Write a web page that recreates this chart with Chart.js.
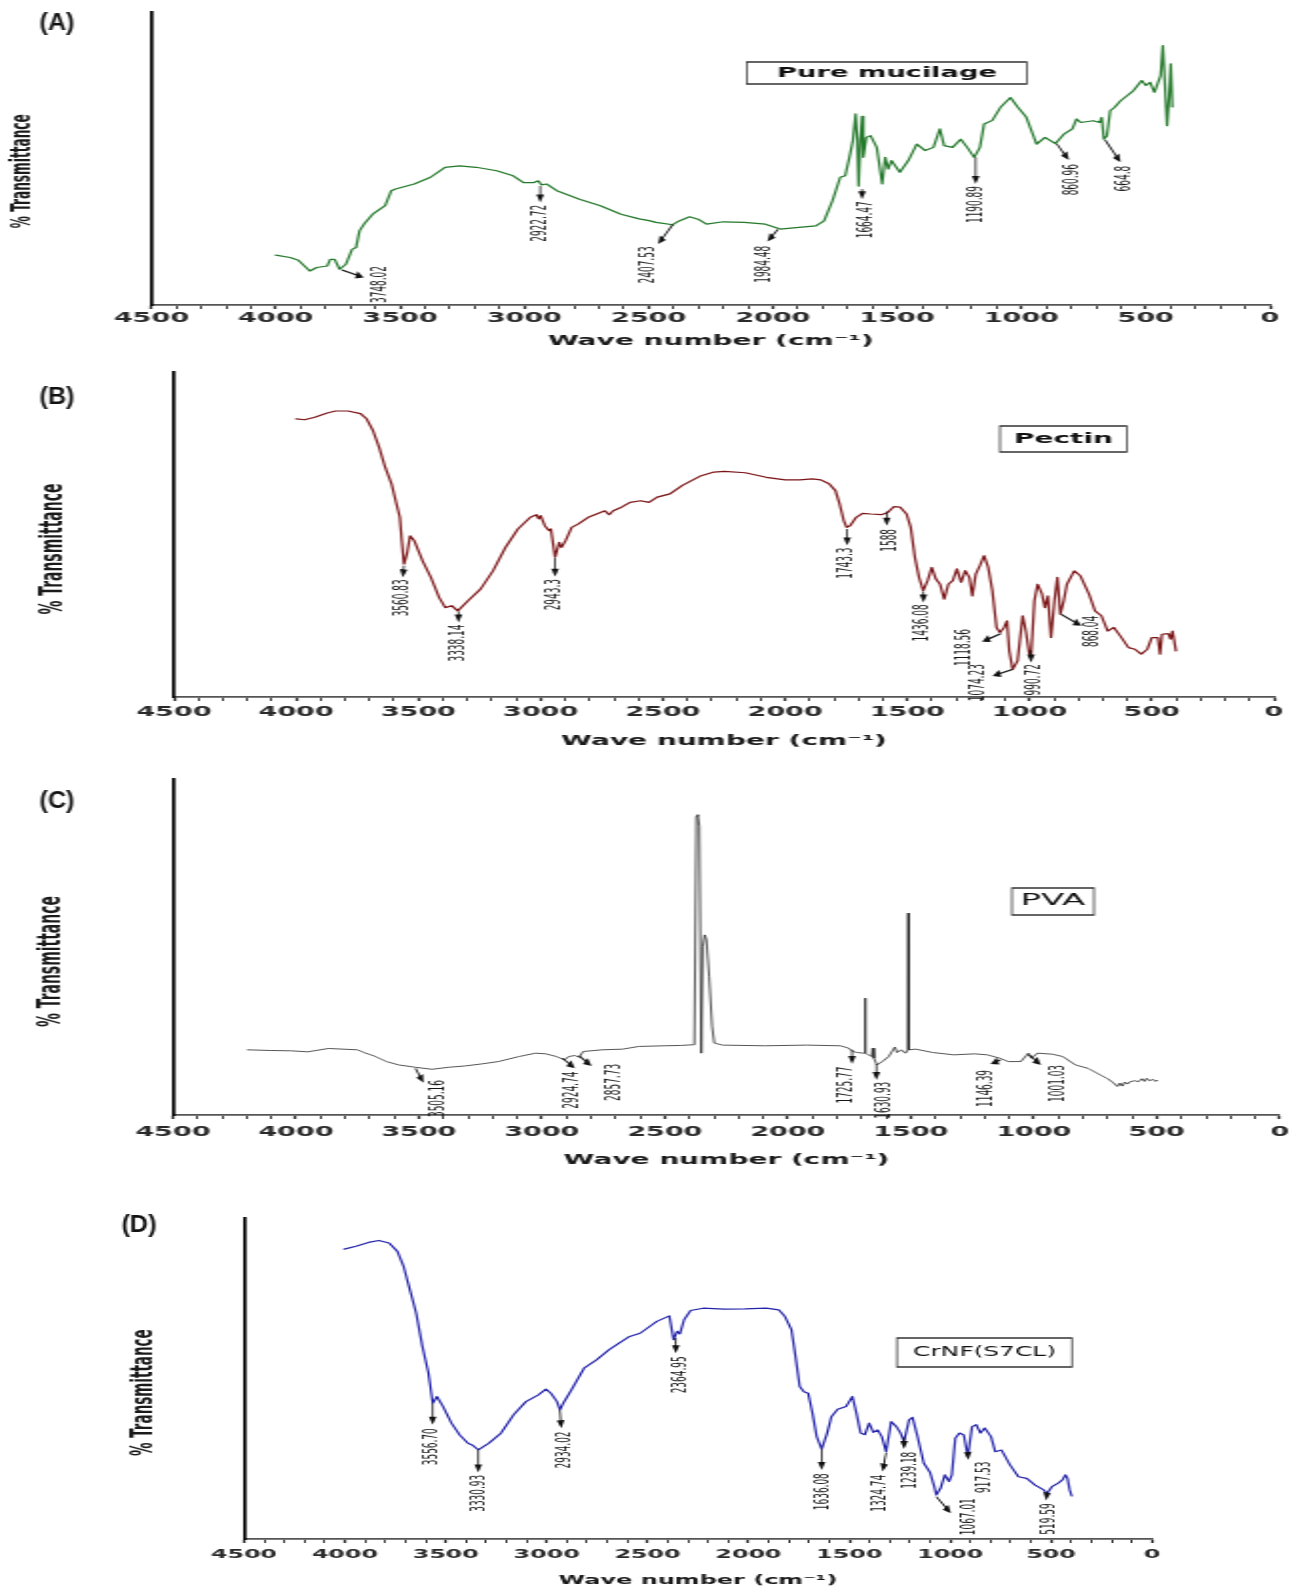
<!DOCTYPE html>
<html><head><meta charset="utf-8">
<script src="https://cdn.jsdelivr.net/npm/chart.js@4.4.1/dist/chart.umd.min.js"></script>
<style>
html,body{margin:0;padding:0;background:#fff;width:1299px;height:1593px;overflow:hidden;}
canvas{position:absolute;left:0;transform-origin:0 0;}
</style></head><body>
<canvas id="cA"></canvas><canvas id="cB"></canvas><canvas id="cC"></canvas><canvas id="cD"></canvas>
<script>
// ---------- data ----------
const tickLabels = [4500,4000,3500,3000,2500,2000,1500,1000,500,0];
const xTitle = 'Wave number (cm⁻¹)';
const yTitle = '% Transmittance';

// (A) Pure mucilage
const wnA = [4000,3942,3909,3863,3835,3793,3781,3763,3743,3718,3693,3677,3663,3643,3610,3560,3535,3518,3443,3377,3319,3261,3194,3111,3045,3003,2961,2944,2931,2911,2869,2778,2694,2611,2538,2498,2470,2403,2377,2335,2301,2267,2200,2115,2030,1971,1895,1827,1794,1760,1729,1709,1692,1678,1667,1660,1655,1648,1641,1636,1624,1607,1582,1574,1560,1548,1536,1523,1489,1455,1421,1387,1354,1328,1311,1277,1244,1218,1190,1167,1150,1117,1083,1044,1015,981,939,905,863,829,795,778,761,711,685,677,668,656,643,626,601,575,550,516,499,482,465,440,431,423,414,406,399,393];
const tA  = [17.0,16.2,15.3,11.6,12.8,13.3,15.6,15.6,12.2,13.9,19.0,19.6,25.3,27.8,31.0,33.9,39.0,39.6,41.3,43.6,47.0,47.5,47.0,45.8,44.1,41.8,41.8,42.4,41.0,41.3,39.0,36.1,33.9,31.0,29.4,28.8,28.2,27.4,28.7,30.1,29.3,27.6,28.4,28.2,27.6,25.9,26.5,27.0,28.7,35.6,43.6,44.1,50.4,56.1,65.2,56.1,40.6,56.1,64.4,50.4,57.2,57.8,53.8,49.3,41.3,50.4,46.4,49.3,45.3,49.3,54.9,52.7,53.8,60.1,54.4,53.8,56.6,53.8,50.4,53.8,61.8,63.0,67.6,70.8,67.6,64.2,54.9,57.2,55.1,58.3,60.1,63.5,62.3,62.9,62.3,64.0,56.6,57.8,66.3,67.4,69.7,71.4,73.1,76.6,74.9,76.0,72.6,78.3,88.5,76.0,61.2,70.9,82.3,67.6];
const peaksA = ['3748.02','2922.72','2407.53','1984.48','1664.47','1190.89','860.96','664.8'];

// (B) Pectin
const wnB = [4000,3966,3924,3873,3839,3788,3737,3712,3686,3661,3636,3610,3593,3576,3568,3559,3547,3534,3517,3483,3449,3415,3390,3364,3339,3297,3246,3195,3144,3093,3042,3017,3008,3000,2983,2966,2958,2941,2924,2915,2898,2873,2847,2805,2771,2737,2720,2703,2669,2634,2591,2557,2523,2471,2420,2369,2343,2291,2249,2163,2077,2000,1940,1889,1854,1820,1794,1777,1760,1748,1734,1709,1683,1649,1606,1580,1554,1529,1503,1486,1469,1452,1435,1417,1400,1383,1366,1349,1332,1314,1297,1280,1263,1246,1234,1220,1203,1186,1169,1152,1135,1121,1104,1092,1083,1069,1049,1028,1015,1001,994,980,967,949,937,925,912,898,886,874,860,847,817,792,757,732,706,680,655,629,595,569,543,518,500,475,466,458,432,423,415,401];
const tB  = [85.6,85.3,86.1,87.4,88.0,88.0,87.2,85.6,82.0,76.9,70.7,65.6,60.4,55.3,48.1,40.9,44.0,49.6,48.1,41.9,36.8,30.6,27.5,28.1,26.5,29.6,33.2,38.8,46.0,51.7,55.3,56.1,54.8,55.8,52.7,51.2,51.7,43.0,47.6,46.0,48.1,52.2,53.2,55.3,56.3,57.3,56.1,57.3,58.4,59.9,60.4,59.9,61.5,62.5,65.1,67.1,68.1,69.2,69.4,69.0,67.6,66.8,66.8,67.1,66.8,65.6,63.5,59.4,54.3,52.2,52.7,55.3,56.5,56.3,56.1,56.8,58.6,58.4,56.3,52.2,43.0,36.8,32.7,35.8,39.9,36.3,34.7,30.1,34.7,35.8,39.4,35.3,38.9,36.8,31.1,37.8,40.4,43.5,39.9,32.7,21.4,19.8,21.4,23.4,14.2,8.5,11.1,25.0,20.3,13.2,12.1,29.6,34.7,31.7,27.5,31.1,18.3,29.6,36.8,25.5,29.6,34.7,38.8,37.3,31.7,26.5,25.0,20.3,21.4,18.8,15.2,14.7,13.2,14.7,18.3,18.3,13.2,19.3,19.5,17.8,20.3,14.2];
const peaksB = ['3560.83','3338.14','2943.3','1743.3','1588','1436.08','1118.56','1074.23','990.72','868.04'];

// (C) PVA
const wnC = [4197,4104,4020,3952,3868,3750,3716,3683,3632,3582,3514,3447,3380,3312,3245,3177,3093,3026,2984,2941,2908,2891,2866,2849,2832,2756,2672,2606,2503,2435,2387,2380,2372,2366,2360,2352,2346,2338,2331,2320,2308,2299,2265,2094,1923,1787,1753,1736,1718,1693,1688,1686,1684,1659,1655,1650,1638,1616,1590,1565,1556,1539,1522,1512,1510,1508,1480,1411,1326,1241,1189,1138,1104,1053,1022,1010,985,925,882,831,780,729,700,677,660,650,640,630,620,609,590,575,560,550,541,530,515,505,498];
const tC  = [19.4,19.2,19.1,18.8,19.8,19.4,18.4,17.6,15.9,14.9,14.2,13.6,14.2,14.6,15.2,15.9,17.4,18.4,18.2,17.4,16.4,17.4,17.7,17.2,18.9,19.4,19.6,20.4,20.6,20.7,20.9,20.9,88.9,89.4,85.9,18.4,50.1,53.6,52.1,41.2,26.3,21.4,20.8,20.6,20.8,20.6,19.9,18.9,18.6,18.4,18.4,34.8,18.4,17.4,19.9,16.9,14.9,15.9,17.4,20.2,18.6,19.4,18.4,19.4,60.1,19.4,19.6,18.6,17.9,18.2,17.9,16.9,15.9,15.9,18.4,16.9,18.4,18.1,17.4,14.9,13.9,11.9,10.8,9.6,8.5,9.5,8.6,9.8,9.2,9.9,10.2,9.9,10.8,10.0,10.9,10.2,10.6,10.0,10.3];
const peaksC = ['3505.16','2924.74','2857.73','1725.77','1630.93','1146.39','1001.03'];

// (D) CrNF(S7CL)
const wnD = [4003,3945,3883,3832,3781,3740,3709,3678,3647,3616,3586,3565,3544,3514,3472,3431,3390,3370,3339,3288,3226,3164,3103,3041,3004,2979,2949,2934,2918,2877,2815,2753,2692,2630,2589,2537,2454,2392,2371,2354,2340,2319,2287,2225,2121,2017,1912,1850,1819,1787,1767,1746,1725,1704,1683,1662,1637,1610,1589,1558,1516,1485,1465,1444,1423,1402,1381,1360,1339,1318,1293,1267,1246,1229,1204,1187,1162,1131,1100,1079,1069,1048,1027,1006,992,975,954,933,913,892,871,850,829,798,777,746,704,662,621,579,537,521,496,465,444,429,419,408,398];
const tD  = [90.3,91.2,92.4,93.0,92.2,89.6,84.9,77.7,70.4,60.0,51.7,42.3,44.4,41.3,36.1,32.4,29.8,29.3,27.8,29.8,33.0,38.7,42.8,44.9,46.7,45.4,42.8,40.2,42.3,46.5,53.2,55.8,58.9,61.5,63.1,64.1,67.8,69.5,62.1,64.7,63.9,68.3,71.2,71.9,71.6,71.7,71.9,71.4,69.3,65.2,56.9,47.5,45.9,45.4,39.2,31.9,28.0,33.0,38.1,40.4,41.3,44.4,39.2,33.0,32.5,36.1,33.2,34.0,31.9,27.2,36.6,35.0,33.0,30.4,37.1,37.9,31.9,23.6,20.7,16.3,13.7,15.8,20.0,17.9,20.0,31.4,33.0,32.4,25.7,35.0,35.6,33.0,34.6,31.9,27.2,27.7,23.1,19.4,18.9,16.8,15.3,14.2,16.3,17.4,18.4,20.0,18.9,15.3,13.4];
const peaksD = ['3556.70','3330.93','2934.02','2364.95','1636.08','1324.74','1239.18','1067.01','917.53','519.59'];

// ---------- callout placement (data units: arrow start wn,v / arrow tip wn,v / label top-centre wn,v) ----------
const calloutsA = [[3735,12.0,3646,9.4,3576,13.3],[2936,40.6,2936,35.0,2936,34.2],[2403,27.4,2462,20.8,2504,20.0],[1980,25.8,2022,21.7,2030,20.2],[1641,39.6,1641,36.1,1624,35.4],[1184,50.4,1184,41.3,1184,40.6],[858,55.0,809,49.5,795,48.1],[663,56.3,601,48.7,584,47.5]];
const calloutsB = [[3559,40.4,3564,36.8,3566,36.2],[3336,26.3,3336,22.9,3336,22.3],[2941,42.8,2941,37.0,2941,36.3],[1746,51.7,1746,46.6,1746,46.0],[1584,57.1,1584,52.7,1569,51.7],[1434,32.5,1434,29.1,1434,28.5],[1117,19.5,1194,17.0,1263,20.9],[1069,8.5,1151,6.5,1211,10.1],[994,14.4,994,10.6,981,10.1],[872,25.5,788,21.9,740,25.0]];
const calloutsC = [[3514,13.9,3481,9.6,3422,10.4],[2916,16.9,2866,13.9,2874,12.9],[2849,17.6,2798,14.6,2705,15.2],[1739,19.4,1739,15.2,1761,14.4],[1640,15.2,1640,10.4,1607,9.9],[1135,16.4,1176,15.2,1189,13.4],[1019,17.9,971,14.9,900,14.9]];
const calloutsD = [[3565,42.3,3565,35.6,3575,34.5],[3339,27.8,3339,20.7,3339,20.0],[2934,40.2,2928,34.5,2907,33.5],[2360,62.6,2360,57.9,2340,56.9],[1637,28.0,1637,21.5,1627,20.5],[1318,26.9,1335,21.0,1344,20.0],[1229,31.6,1229,28.0,1198,27.2],[1069,13.2,997,8.0,906,12.7],[913,27.2,911,24.6,833,24.1],[521,14.2,525,12.0,510,11.1]];

// ---------- layout / style ----------
const panels = [
 {id:'cA', wn:wnA, t:tA, peaks:peaksA, call:calloutsA, s:2.0, L:151.5, R:1270, T:12, B:305, yl:318, yt:341, ytx:23, tick:13.5, title:14, ytitle:13.5, color:'#23782a', lw:1.2, tag:'(A)', tagX:57, tagY:24, leg:{text:'Pure mucilage', bold:true, size:14, w:220, x0:747, y0:62, x1:1027, y1:84}},
 {id:'cB', wn:wnB, t:tB, peaks:peaksB, call:calloutsB, s:2.0, L:174, R:1274, T:372, B:697, yl:712.5, yt:741, ytx:53, tick:13.5, title:14, ytitle:15.5, color:'#7b1416', lw:1.2, tag:'(B)', tagX:57, tagY:398, leg:{text:'Pectin', bold:true, size:14, w:99, x0:1000, y0:426, x1:1127, y1:452}},
 {id:'cC', wn:wnC, t:tC, peaks:peaksC, call:calloutsC, s:2.0, L:173, R:1283, T:779, B:1115, yl:1132.5, yt:1160, ytx:52, tick:13.5, title:14, ytitle:15.5, color:'#1c1c1c', lw:0.75, tag:'(C)', tagX:57, tagY:802, leg:{text:'PVA', bold:false, size:15, w:65, x0:1012, y0:888, x1:1094, y1:915}},
 {id:'cD', wn:wnD, t:tD, peaks:peaksD, call:calloutsD, s:1.9, L:244, R:1152, T:1218, B:1539, yl:1555, yt:1581, ytx:145, tick:12.5, title:12.6, ytitle:15, color:'#2424aa', lw:1.2, tag:'(D)', tagX:139, tagY:1226, leg:{text:'CrNF(S7CL)', bold:false, size:14, w:143, x0:897, y0:1338, x1:1072, y1:1367}}
];

const NARROW = '"Liberation Sans Narrow", "DejaVu Sans Condensed", "Liberation Sans", sans-serif';

function arrow(ctx,x1,y1,x2,y2){
  const a=Math.atan2(y2-y1,x2-x1), hl=8, hw=3.8;
  ctx.strokeStyle='#111'; ctx.fillStyle='#111'; ctx.lineWidth=1.5;
  ctx.beginPath(); ctx.moveTo(x1,y1); ctx.lineTo(x2-Math.cos(a)*hl*0.7, y2-Math.sin(a)*hl*0.7); ctx.stroke();
  ctx.beginPath(); ctx.moveTo(x2,y2);
  ctx.lineTo(x2-hl*Math.cos(a)+hw*Math.sin(a), y2-hl*Math.sin(a)-hw*Math.cos(a));
  ctx.lineTo(x2-hl*Math.cos(a)-hw*Math.sin(a), y2-hl*Math.sin(a)+hw*Math.cos(a));
  ctx.closePath(); ctx.fill();
}
function rotText(ctx,text,x,y){
  ctx.save();
  ctx.translate(x,y); ctx.rotate(-Math.PI/2);
  ctx.font='21px '+NARROW;
  const k = 37/ctx.measureText('3748.02').width;
  ctx.scale(k,1);
  ctx.textAlign='right'; ctx.textBaseline='middle'; ctx.fillStyle='#151515';
  ctx.fillText(text,0,0);
  ctx.restore();
}
function stretchText(ctx,text,cx,cy,font,w,color){
  ctx.save(); ctx.font=font;
  const m=ctx.measureText(text).width;
  ctx.translate(cx,cy); ctx.scale(w/m,1);
  ctx.textAlign='center'; ctx.textBaseline='middle'; ctx.fillStyle=color;
  ctx.fillText(text,0,0); ctx.restore();
}

function build(p){
  const cv=document.getElementById(p.id);
  const s=p.s, Wc=Math.ceil(1299/s), padTop=8, top=p.T-padTop, tl=4;
  const tickLh=p.tick*1.2, titleLh=p.title*1.2, yLh=p.ytitle*1.2;
  const tp=p.yl-p.B-tl-tickLh/2;
  const tpt=p.yt-p.B-tl-tickLh-2*tp-titleLh/2;
  const tpb=3;
  const scaleH=tl+tickLh+2*tp+titleLh+tpt+tpb;
  const H=Math.ceil(p.B-top+scaleH);
  const padBottom=H-(p.B-top+scaleH);
  const ypt=p.ytx/s-yLh/2, ypb=p.L/s-yLh-ypt;
  const padRight=Wc-p.R/s;
  cv.width=Wc; cv.height=H;
  cv.style.width=Wc+'px'; cv.style.height=H+'px';
  cv.style.top=top+'px'; cv.style.transform='scaleX('+s+')';

  const deco={id:'deco'+p.id, afterDraw(chart){
    const ctx=chart.ctx, xs=chart.scales.x, ys=chart.scales.y;
    ctx.save(); ctx.scale(1/s,1);
    const X=w=>xs.getPixelForValue(w)*s, Y=v=>ys.getPixelForValue(v);
    p.peaks.forEach((lab,i)=>{
      const c=p.call[i];
      arrow(ctx,X(c[0]),Y(c[1]),X(c[2]),Y(c[3]));
      rotText(ctx,lab,X(c[4]),Y(c[5]));
    });
    const g=p.leg;
    ctx.strokeStyle='#333'; ctx.lineWidth=1.5;
    ctx.strokeRect(g.x0,g.y0-top,g.x1-g.x0,g.y1-g.y0);
    stretchText(ctx,g.text,(g.x0+g.x1)/2,(g.y0+g.y1)/2-top,(g.bold?'bold ':'')+g.size+'px "DejaVu Sans"',g.w,'#111');
    stretchText(ctx,p.tag,p.tagX,p.tagY-top,'bold 23px "Liberation Sans", sans-serif',35,'#111');
    ctx.restore();
  }};

  new Chart(cv,{
    type:'line',
    data:{datasets:[{data:p.wn.map((w,i)=>({x:w,y:p.t[i]})), borderColor:p.color, borderWidth:p.lw, pointRadius:0, tension:0, fill:false, borderJoinStyle:'round', borderCapStyle:'round'}]},
    options:{
      responsive:false, animation:false, devicePixelRatio:1,
      layout:{padding:{left:0,right:padRight,top:padTop,bottom:padBottom}},
      plugins:{legend:{display:false},tooltip:{enabled:false}},
      scales:{
        x:{type:'linear',min:0,max:4500,reverse:true,
           grid:{display:true,drawOnChartArea:false,drawTicks:true,tickLength:tl,tickColor:'#222',
                 tickWidth:(c)=> (c.tick && Math.round(c.tick.value)%500===0)?1.3:0.9},
           border:{display:true,color:'#555',width:1.7},
           ticks:{stepSize:100,autoSkip:false,maxRotation:0,minRotation:0,padding:tp,color:'#2a2a2a',
                  font:{family:'"DejaVu Sans"',weight:'bold',size:p.tick},
                  callback:(v)=> tickLabels.includes(Math.round(v))?String(Math.round(v)):''},
           title:{display:true,text:xTitle,color:'#1a1a1a',font:{family:'"DejaVu Sans"',weight:'bold',size:p.title},padding:{top:tpt,bottom:tpb}}
        },
        y:{min:0,max:100,grid:{display:false,drawTicks:false,tickLength:0},border:{display:true,color:'#000',width:1.7},
           ticks:{display:false},
           title:{display:true,text:yTitle+'      ',color:'#1a1a1a',font:{family:NARROW,weight:'bold',size:p.ytitle},padding:{top:ypt,bottom:ypb}}
        }
      }
    },
    plugins:[deco]
  });
}
panels.forEach(build);
</script>
</body></html>
